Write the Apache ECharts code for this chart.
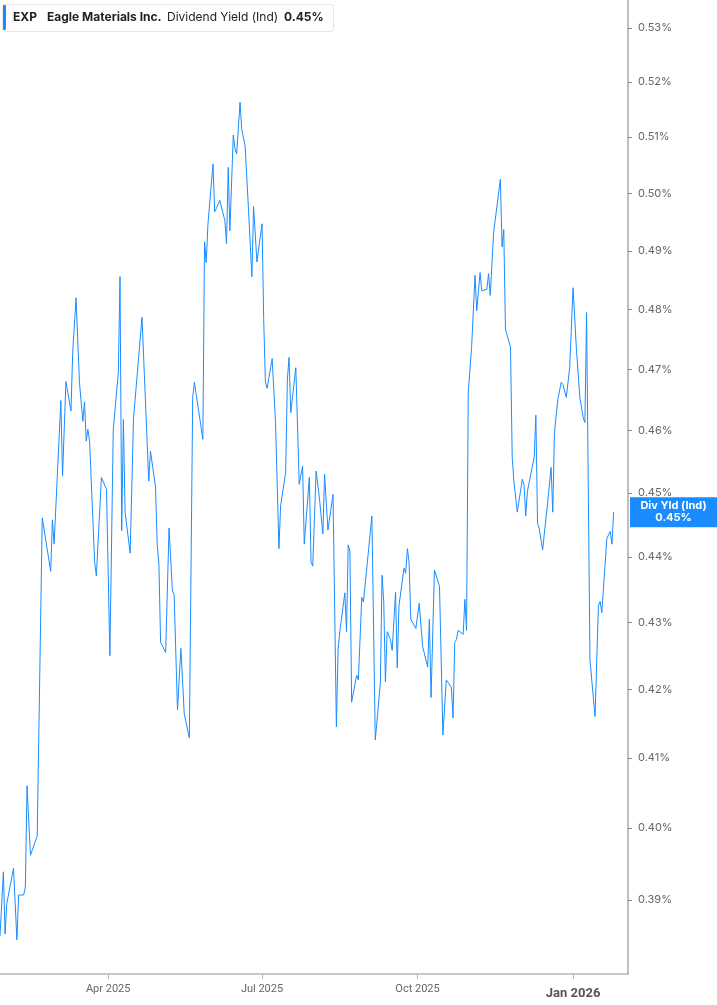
<!DOCTYPE html>
<html>
<head>
<meta charset="utf-8">
<script src="https://cdn.jsdelivr.net/npm/echarts@6/dist/echarts.min.js"></script>
<style>
html,body{margin:0;padding:0;background:#fff;}
#chart{width:717px;height:1005px;}
</style>
</head>
<body>
<div id="chart"></div>
<script>
const dates = [
'2025-01-27','2025-01-29','2025-01-30','2025-01-31','2025-02-04','2025-02-06','2025-02-07','2025-02-10','2025-02-11','2025-02-12',
'2025-02-14','2025-02-18','2025-02-21','2025-02-26','2025-02-27','2025-02-28','2025-03-04','2025-03-05','2025-03-06','2025-03-07',
'2025-03-10','2025-03-11','2025-03-13','2025-03-15','2025-03-17','2025-03-18','2025-03-19','2025-03-20','2025-03-21','2025-03-24',
'2025-03-25','2025-03-26','2025-03-28','2025-03-31','2025-04-02','2025-04-04','2025-04-07','2025-04-08','2025-04-09','2025-04-10',
'2025-04-11','2025-04-14','2025-04-16','2025-04-17','2025-04-21','2025-04-25','2025-04-26','2025-04-29','2025-04-30','2025-05-01',
'2025-05-02','2025-05-05','2025-05-07','2025-05-09','2025-05-10','2025-05-12','2025-05-14','2025-05-15','2025-05-16','2025-05-19',
'2025-05-21','2025-05-22','2025-05-27','2025-05-28','2025-05-29','2025-05-30','2025-06-02','2025-06-03','2025-06-04','2025-06-05',
'2025-06-06','2025-06-09','2025-06-10','2025-06-11','2025-06-12','2025-06-14','2025-06-15','2025-06-16','2025-06-18','2025-06-19',
'2025-06-21','2025-06-23','2025-06-25','2025-06-26','2025-06-28','2025-07-01','2025-07-02','2025-07-03','2025-07-04','2025-07-07',
'2025-07-09','2025-07-11','2025-07-12','2025-07-15','2025-07-16','2025-07-17','2025-07-18','2025-07-21','2025-07-23','2025-07-25',
'2025-07-26','2025-07-29','2025-07-30','2025-07-31','2025-08-02','2025-08-04','2025-08-06','2025-08-07','2025-08-09','2025-08-12',
'2025-08-14','2025-08-15','2025-08-16','2025-08-19','2025-08-20','2025-08-21','2025-08-22','2025-08-23','2025-08-26','2025-08-27',
'2025-08-29','2025-08-30','2025-09-04','2025-09-06','2025-09-09','2025-09-10','2025-09-11','2025-09-12','2025-09-13','2025-09-15',
'2025-09-16','2025-09-18','2025-09-19','2025-09-20','2025-09-23','2025-09-24','2025-09-25','2025-09-26','2025-09-27','2025-09-30',
'2025-10-01','2025-10-02','2025-10-04','2025-10-07','2025-10-08','2025-10-09','2025-10-11','2025-10-14','2025-10-16','2025-10-18',
'2025-10-21','2025-10-22','2025-10-23','2025-10-24','2025-10-25','2025-10-28','2025-10-29','2025-10-30','2025-10-31','2025-11-02',
'2025-11-04','2025-11-05','2025-11-07','2025-11-08','2025-11-11','2025-11-12','2025-11-13','2025-11-15','2025-11-19','2025-11-20',
'2025-11-21','2025-11-22','2025-11-25','2025-11-26','2025-11-27','2025-11-29','2025-12-02','2025-12-03','2025-12-04','2025-12-05',
'2025-12-06','2025-12-09','2025-12-10','2025-12-11','2025-12-12','2025-12-14','2025-12-15','2025-12-17','2025-12-18','2025-12-19',
'2025-12-20','2025-12-21','2025-12-23','2025-12-25','2025-12-26','2025-12-28','2025-12-30','2026-01-01','2026-01-03','2026-01-05',
'2026-01-07','2026-01-08','2026-01-09','2026-01-11','2026-01-14','2026-01-16','2026-01-17','2026-01-18','2026-01-21','2026-01-23',
'2026-01-24','2026-01-25'
];
const values = [
0.3851,0.3939,0.3854,0.3895,0.3944,0.3846,0.3907,0.3907,0.3918,0.4060,
0.3962,0.3989,0.4461,0.4378,0.4458,0.4420,0.4649,0.4527,0.4527,0.4680,
0.4632,0.4728,0.4820,0.4679,0.4615,0.4647,0.4583,0.4602,0.4583,0.4392,
0.4371,0.4369,0.4525,0.4506,0.4250,0.4602,0.4695,0.4856,0.4441,0.4618,
0.4470,0.4406,0.4620,0.4621,0.4787,0.4519,0.4567,0.4510,0.4419,0.4389,
0.4270,0.4255,0.4445,0.4348,0.4342,0.4170,0.4261,0.4259,0.4164,0.4129,
0.4654,0.4679,0.4586,0.4916,0.4880,0.4946,0.5052,0.4968,0.4974,0.4972,
0.4988,0.4953,0.4912,0.5046,0.4935,0.5104,0.5079,0.5070,0.5163,0.5114,
0.5084,0.4972,0.4856,0.4977,0.4881,0.4947,0.4783,0.4679,0.4669,0.4718,
0.4613,0.4413,0.4480,0.4533,0.4684,0.4720,0.4629,0.4703,0.4514,0.4543,
0.4420,0.4525,0.4392,0.4386,0.4535,0.4491,0.4436,0.4530,0.4442,0.4498,
0.4145,0.4259,0.4286,0.4345,0.4286,0.4419,0.4409,0.4181,0.4221,0.4214,
0.4338,0.4331,0.4464,0.4126,0.4209,0.4372,0.4332,0.4211,0.4286,0.4274,
0.4258,0.4346,0.4232,0.4325,0.4383,0.4375,0.4413,0.4392,0.4305,0.4291,
0.4292,0.4329,0.4264,0.4233,0.4305,0.4188,0.4380,0.4355,0.4133,0.4214,
0.4203,0.4158,0.4270,0.4274,0.4288,0.4282,0.4335,0.4288,0.4662,0.4738,
0.4858,0.4798,0.4863,0.4832,0.4834,0.4861,0.4824,0.4932,0.5025,0.4907,
0.4937,0.4767,0.4737,0.4557,0.4519,0.4470,0.4522,0.4514,0.4464,0.4503,
0.4502,0.4557,0.4625,0.4452,0.4444,0.4411,0.4436,0.4486,0.4488,0.4541,
0.4470,0.4597,0.4651,0.4679,0.4675,0.4654,0.4703,0.4837,0.4733,0.4654,
0.4621,0.4613,0.4795,0.4244,0.4160,0.4325,0.4332,0.4315,0.4429,0.4440,
0.4420,0.4470
];
const yTicks = [0.39,0.40,0.41,0.42,0.43,0.44,0.45,0.46,0.47,0.48,0.49,0.50,0.51,0.52,0.53];
const xTicks = ['2025-04-01','2025-07-01','2025-10-01','2026-01-01'];
const monthNames = ['Jan','Feb','Mar','Apr','May','Jun','Jul','Aug','Sep','Oct','Nov','Dec'];

const toTime = function (s) { return Date.parse(s + 'T00:00:00Z'); };
const lastValue = values[values.length - 1];
const chart = echarts.init(document.getElementById('chart'), null, {renderer: 'canvas'});

const option = {
  animation: false,
  backgroundColor: '#fff',
  textStyle: {fontFamily: 'Inter, Roboto, sans-serif'},
  grid: {left: 0, right: 89, top: 0, bottom: 31, containLabel: false},
  graphic: [
    {type: 'rect', left: 2, top: 4, shape: {width: 331, height: 27, r: 3},
     style: {fill: '#fff', stroke: '#e6e6e6', lineWidth: 1}, z: 100},
    {type: 'rect', left: 3, top: 5, shape: {width: 3, height: 25, r: 1},
     style: {fill: '#1a8cff'}, z: 101},
    {type: 'text', left: 13, top: 11, z: 101,
     style: {text: 'EXP', fill: '#222', font: 'bold 12px Inter, sans-serif'}},
    {type: 'text', left: 47, top: 11, z: 101,
     style: {text: 'Eagle Materials Inc.', fill: '#222', font: 'bold 12px Inter, sans-serif'}},
    {type: 'text', left: 167, top: 11, z: 101,
     style: {text: 'Dividend Yield (Ind)', fill: '#222', font: '12px Inter, sans-serif'}},
    {type: 'text', left: 284, top: 11, z: 101,
     style: {text: lastValue.toFixed(2) + '%', fill: '#222', font: 'bold 12px Inter, sans-serif'}}
  ],
  xAxis: {
    type: 'value',
    min: toTime('2025-01-27'),
    max: toTime('2026-02-02') + 12 * 3600 * 1000,
    axisLine: {show: true, lineStyle: {color: '#b5b5b5', width: 1.5}},
    axisTick: {show: true, customValues: xTicks.map(toTime), length: 5, lineStyle: {color: '#b5b5b5'}},
    splitLine: {show: false},
    axisLabel: {
      customValues: xTicks.map(toTime),
      margin: 10,
      fontSize: 11,
      color: '#666',
      fontFamily: 'Roboto, sans-serif',
      formatter: function (v) {
        const d = new Date(v);
        const m = d.getUTCMonth();
        const s = monthNames[m] + ' ' + d.getUTCFullYear();
        return m === 0 ? '{b|' + s + '}' : s;
      },
      rich: {b: {fontWeight: 'bold', fontSize: 13, color: '#555', fontFamily: 'Roboto, sans-serif', padding: [3, 0, 0, 0]}}
    }
  },
  yAxis: {
    type: 'log',
    logBase: 10,
    position: 'right',
    min: 0.38,
    max: 0.5352,
    axisLine: {show: true, lineStyle: {color: '#aaa', width: 1.5}},
    axisTick: {show: true, customValues: yTicks, length: 4, lineStyle: {color: '#888'}},
    splitLine: {show: false},
    axisLabel: {
      customValues: yTicks,
      margin: 10,
      fontSize: 11,
      color: '#666',
      fontFamily: 'Inter, sans-serif',
      formatter: function (v) { return Number(v).toFixed(2) + '%'; }
    }
  },
  series: [{
    type: 'line',
    data: dates.map(function (d, i) { return [toTime(d), values[i]]; }),
    showSymbol: false,
    symbol: 'none',
    lineStyle: {color: '#1a8cff', width: 1},
    silent: true,
    markLine: {
      silent: true,
      precision: 6,
      symbol: ['none', 'none'],
      lineStyle: {color: 'rgba(0,0,0,0)', width: 0, type: 'solid'},
      label: {
        show: true,
        position: 'end',
        distance: 2,
        formatter: function () { return '{a|Div Yld (Ind)}\n{a|' + lastValue.toFixed(2) + '%}'; },
        backgroundColor: '#1a8cff',
        padding: [3, 0, 3, 0],
        rich: {
          a: {width: 87, align: 'center', color: '#fff', fontWeight: 'bold', fontSize: 11, lineHeight: 12, fontFamily: 'Inter, sans-serif'}
        }
      },
      data: [{yAxis: lastValue}]
    }
  }]
};
chart.setOption(option);
</script>
</body>
</html>
